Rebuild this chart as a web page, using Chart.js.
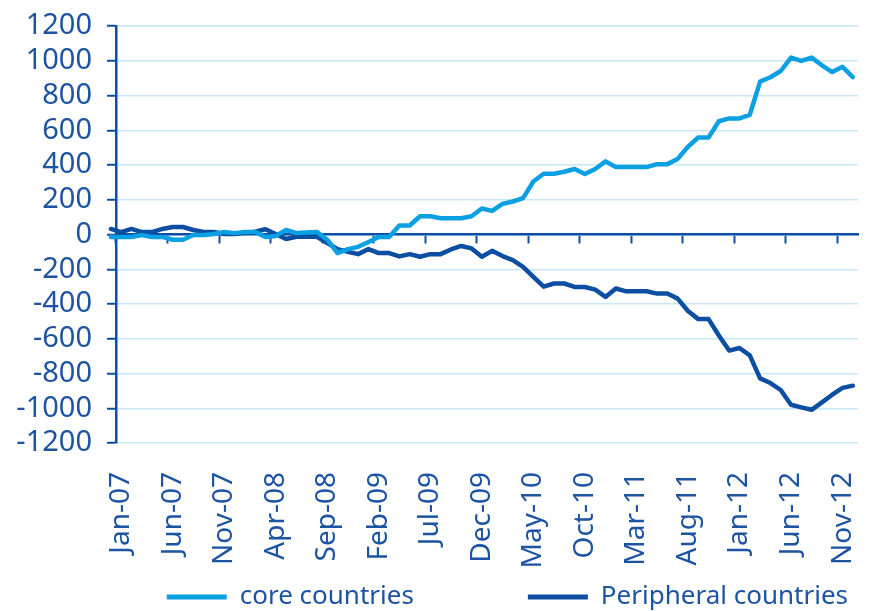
<!DOCTYPE html>
<html lang="en">
<head>
<meta charset="UTF-8">
<title>Core vs peripheral countries</title>
<script src="https://cdn.jsdelivr.net/npm/chart.js"></script>
<style>
    body { margin: 0; background: #ffffff; }
    .chart-box { width: 870px; height: 611px; }
</style>
</head>
<body>
<div class="chart-box"><canvas id="flowChart"></canvas></div>
<script>
// axis categories, Jan-07 .. Dec-12
const months = [
    'Jan-07','Feb-07','Mar-07','Apr-07','May-07','Jun-07','Jul-07','Aug-07','Sep-07','Oct-07','Nov-07','Dec-07',
    'Jan-08','Feb-08','Mar-08','Apr-08','May-08','Jun-08','Jul-08','Aug-08','Sep-08','Oct-08','Nov-08','Dec-08',
    'Jan-09','Feb-09','Mar-09','Apr-09','May-09','Jun-09','Jul-09','Aug-09','Sep-09','Oct-09','Nov-09','Dec-09',
    'Jan-10','Feb-10','Mar-10','Apr-10','May-10','Jun-10','Jul-10','Aug-10','Sep-10','Oct-10','Nov-10','Dec-10',
    'Jan-11','Feb-11','Mar-11','Apr-11','May-11','Jun-11','Jul-11','Aug-11','Sep-11','Oct-11','Nov-11','Dec-11',
    'Jan-12','Feb-12','Mar-12','Apr-12','May-12','Jun-12','Jul-12','Aug-12','Sep-12','Oct-12','Nov-12','Dec-12'
];
const labelEvery = 5;

// series run Dec-06 .. Dec-12 (one month before the first axis category)
const coreCountries = [
    -14,
    -15, -14, -3, -14, -14, -30, -30, -3, -3, 3, 15, 8,
    15, 15, -14, -8, 26, 8, 12, 15, -30, -107, -84, -71,
    -43, -14, -14, 52, 52, 105, 105, 94, 94, 94, 105, 150,
    136, 176, 190, 209, 305, 350, 350, 361, 377, 348, 377, 421,
    388, 388, 388, 388, 405, 405, 435, 505, 558, 558, 652, 668,
    668, 689, 880, 905, 941, 1018, 999, 1018, 974, 935, 965, 906
];
const peripheralCountries = [
    32,
    14, 32, 14, 14, 32, 43, 43, 26, 14, 14, 3, 3,
    10, 16, 30, 3, -26, -13, -13, -13, -49, -84, -99, -113,
    -84, -107, -107, -126, -113, -128, -113, -113, -86, -66, -80, -128,
    -94, -124, -147, -186, -244, -300, -282, -282, -302, -302, -317, -359,
    -311, -327, -327, -327, -340, -340, -369, -440, -487, -487, -581, -668,
    -653, -696, -828, -855, -895, -980, -995, -1009, -966, -922, -883, -870
];
const seriesNames = ['core countries', 'Peripheral countries'];

const yMin = -1200, yMax = 1200, yStep = 200;

const textColor = '#1c53a2';
const coreColor = '#0aa0e2';
const periColor = '#0c4ea1';
const gridColor = '#c9e8f7';
const font = 'Noto Sans';

// index -1 is Dec-06
function toPoints(values) {
    return values.map((v, i) => ({ x: i - 1, y: v }));
}

function lineSet(label, values, color) {
    return {
        label: label,
        data: toPoints(values),
        xAxisID: 'xd',
        borderColor: color,
        backgroundColor: color,
        borderWidth: 4.5,
        pointRadius: 0,
        tension: 0,
        borderJoinStyle: 'round',
        borderCapStyle: 'round',
        clip: false
    };
}

// keep the rotated labels from reserving room at the sides
function noSidePadding(s) {
    s.paddingLeft = 0;
    s.paddingRight = 0;
}

new Chart(document.getElementById('flowChart'), {
    type: 'line',
    data: {
        labels: months,
        datasets: [
            lineSet(seriesNames[0], coreCountries, coreColor),
            lineSet(seriesNames[1], peripheralCountries, periColor)
        ]
    },
    options: {
        responsive: true,
        maintainAspectRatio: false,
        animation: false,
        layout: { padding: { top: 26, right: 12, bottom: -9, left: 0 } },
        scales: {
            xd: {
                type: 'linear',
                display: false,
                min: -0.5,
                max: months.length - 0.5
            },
            x: {
                type: 'category',
                position: 'bottom',
                offset: true,
                border: { display: false },
                grid: { display: false, drawTicks: false },
                ticks: {
                    autoSkip: false,
                    minRotation: 90,
                    maxRotation: 90,
                    padding: 29,
                    color: textColor,
                    font: { family: font, size: 28 },
                    callback: (val, i) => i % labelEvery === 0 ? months[i] : ''
                },
                afterFit: s => { s.height = 131; noSidePadding(s); }
            },
            x0: {
                type: 'category',
                position: { y: 0 },
                offset: true,
                border: { display: true, color: periColor, width: 2.5 },
                grid: {
                    offset: true,
                    drawOnChartArea: false,
                    tickLength: 8,
                    tickWidth: 2,
                    tickColor: ctx => ctx.index % labelEvery === 0 && ctx.index < months.length ? periColor : 'rgba(0,0,0,0)'
                },
                ticks: { display: false },
                afterFit: noSidePadding
            },
            y: {
                min: yMin,
                max: yMax,
                border: { display: true, color: periColor, width: 2.5 },
                grid: {
                    color: gridColor,
                    lineWidth: 1.5,
                    tickLength: 9,
                    tickColor: periColor,
                    tickWidth: 2
                },
                ticks: {
                    stepSize: yStep,
                    autoSkip: false,
                    padding: 15,
                    color: textColor,
                    font: { family: font, size: 29 },
                    callback: v => String(v)
                },
                afterFit: s => { s.width = 116; s.paddingTop = 0; s.paddingBottom = 0; }
            }
        },
        plugins: {
            tooltip: { enabled: false },
            legend: {
                position: 'bottom',
                align: 'end',
                labels: {
                    boxWidth: 60,
                    boxHeight: 5,
                    padding: 10,
                    color: textColor,
                    font: { family: font, size: 26 },
                    generateLabels: chart => chart.data.datasets.map((ds, i) => ({
                        // trailing em spaces widen the gap between the two entries
                        text: i === 0 ? ds.label + '\u2003\u2003\u2003\u2003' : ds.label,
                        fillStyle: ds.borderColor,
                        strokeStyle: ds.borderColor,
                        lineWidth: 0,
                        fontColor: textColor,
                        datasetIndex: i,
                        hidden: false
                    }))
                }
            }
        }
    }
});
</script>
</body>
</html>
